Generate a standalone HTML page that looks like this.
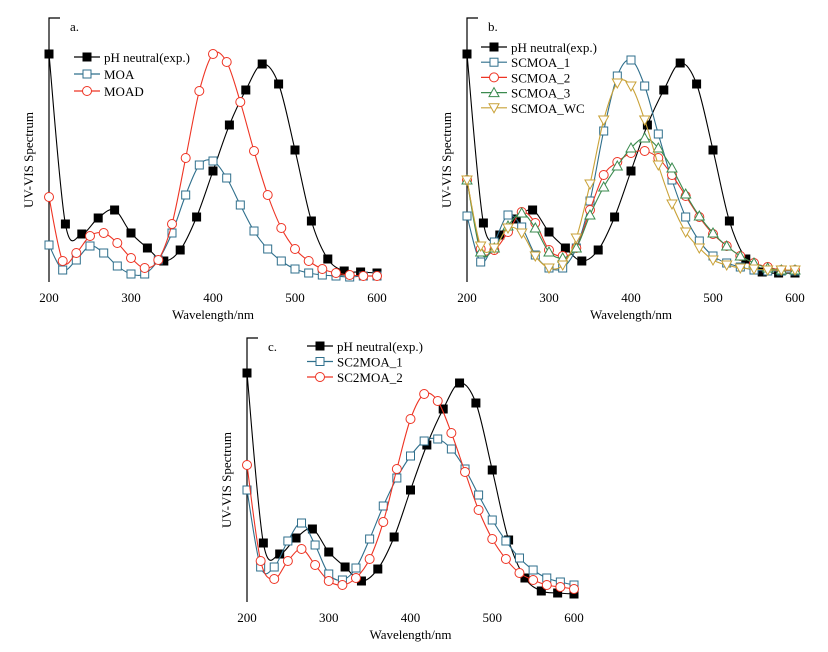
<!DOCTYPE html>
<html><head><meta charset="utf-8">
<style>
html,body{margin:0;padding:0;background:#fff;}
svg{display:block;font-family:"Liberation Serif",serif;}
</style></head>
<body>
<svg id="fig" width="828" height="652" viewBox="0 0 828 652" xmlns="http://www.w3.org/2000/svg"></svg>
<script>
// Wavelength grids
const wl20 = [200,220,240,260,280,300,320,340,360,380,400,420,440,460,480,500,520,540,560,580,600];
const wl17 = [200,216.7,233.3,250,266.7,283.3,300,316.7,333.3,350,366.7,383.3,400,416.7,433.3,450,466.7,483.3,500,516.7,533.3,550,566.7,583.3,600];
const xTicks = [200,300,400,500,600];
// Panel a
const aExp  = [228,58,48,64,72,49,34,21,32,65,111,157,192,218,198,132,61,23,11,10,9];
const aMOA  = [37,12,22,36,29,16,8,8,22,49,87,117,121,104,77,51,33,21,13,9,7,6,5,6,6];
const aMOAD = [85,21,29,46,49,39,24,14,22,58,124,191,228,220,180,131,87,54,33,21,13,9,7,6,6];
// Panel b
const bExp  = [228,59,47,63,72,50,34,21,32,65,111,157,192,219,198,132,61,23,10,9,9];
const bS1   = [66,20,40,67,55,27,14,14,34,81,151,206,222,196,148,102,65,41,26,19,15,12,11,11,11];
const bS2   = [102,33,32,50,70,59,32,26,34,72,107,120,129,131,124,107,86,65,48,36,26,19,15,12,12];
const bS3   = [102,30,34,56,69,54,30,24,34,67,95,116,134,144,134,114,88,66,49,36,26,19,14,12,12];
const bWC   = [102,36,34,54,49,26,14,17,44,98,162,199,196,162,117,78,50,34,22,17,14,13,12,12,12];
// Panel c
const cExp  = [229,59,48,64,73,50,35,21,33,65,112,157,193,219,199,132,62,24,11,9,8];
const cS1   = [112,35,35,61,79,57,28,22,34,63,96,124,146,161,163,153,133,107,82,61,44,32,24,20,17];
const cS2   = [137,41,23,41,53,37,21,17,24,43,80,133,183,208,201,169,130,92,63,43,29,22,17,15,13];

const NS = "http://www.w3.org/2000/svg";
const svg = document.getElementById('fig');
function mk(tag, attrs, parent){
  const e = document.createElementNS(NS, tag);
  for (const k in attrs) e.setAttribute(k, attrs[k]);
  (parent||svg).appendChild(e);
  return e;
}
function smoothPath(pts){
  let d = `M${pts[0][0]},${pts[0][1]}`;
  for (let i=0;i<pts.length-1;i++){
    const p0=pts[Math.max(0,i-1)], p1=pts[i], p2=pts[i+1], p3=pts[Math.min(pts.length-1,i+2)];
    const c1=[p1[0]+(p2[0]-p0[0])/6, p1[1]+(p2[1]-p0[1])/6];
    const c2=[p2[0]-(p3[0]-p1[0])/6, p2[1]-(p3[1]-p1[1])/6];
    d += ` C${c1[0]},${c1[1]} ${c2[0]},${c2[1]} ${p2[0]},${p2[1]}`;
  }
  return d;
}
function marker(g, type, x, y, color){
  let e;
  if (type==='fsq') e = mk('rect',{x:x-4.5,y:y-4.5,width:9,height:9,fill:'#000'},g);
  else if (type==='osq') e = mk('rect',{x:x-4,y:y-4,width:8,height:8,fill:'#fff',stroke:color,'stroke-width':1},g);
  else if (type==='circ') e = mk('circle',{cx:x,cy:y,r:4.5,fill:'#fff',stroke:color,'stroke-width':1},g);
  else if (type==='tri') e = mk('polygon',{points:`${x},${y-5} ${x-5},${y+4} ${x+5},${y+4}`,fill:'#fff',stroke:color,'stroke-width':1},g);
  else if (type==='itri') e = mk('polygon',{points:`${x},${y+5} ${x-5},${y-4} ${x+5},${y-4}`,fill:'#fff',stroke:color,'stroke-width':1},g);
  
  
  return e;
}
function panel(cfg){
  const g = mk('g',{});
  
  
  const xs = v => cfg.x0 + (v-200)*(cfg.x1-cfg.x0)/400;
  const ys = v => cfg.base - v;
  const ax = mk('path',{d:`M${cfg.x0+11},${cfg.top} H${cfg.x0} V${cfg.base}`,fill:'none',stroke:'#000','stroke-width':1.2},g);
  
  
  const lab = mk('text',{x:cfg.x0+21,y:cfg.top+13,'font-size':13},g);
  lab.textContent = cfg.id+'.';
  
  
  xTicks.forEach(t=>{
    const tx = mk('text',{x:xs(t),y:cfg.base+20,'font-size':13,'text-anchor':'middle'},g);
    tx.textContent = t;
    
    
  });
  const xt = mk('text',{x:(cfg.x0+cfg.x1)/2,y:cfg.base+37,'font-size':13,'text-anchor':'middle'},g);
  xt.textContent = 'Wavelength/nm';
  
  
  const yc = (cfg.top+cfg.base)/2+10;
  const yt = mk('text',{x:cfg.x0-16,y:yc,'font-size':13,'text-anchor':'middle',transform:`rotate(-90 ${cfg.x0-16} ${yc})`},g);
  yt.textContent = 'UV-VIS Spectrum';
  
  
  cfg.series.forEach((s,i)=>{
    const sg = mk('g',{},g);
    
    
    const pts = s.x.map((w,j)=>[xs(w), ys(s.y[j])]);
    mk('path',{d:smoothPath(pts),fill:'none',stroke:s.color,'stroke-width':1.1},sg);
    pts.forEach(p=>marker(sg,s.m,p[0],p[1],s.color));
    // legend
    const ly = cfg.ly + i*cfg.lstep;
    const lg = mk('g',{},g);
    
    
    mk('line',{x1:cfg.lx,x2:cfg.lx+26,y1:ly,y2:ly,stroke:s.color,'stroke-width':1.2},lg);
    marker(lg,s.m,cfg.lx+13,ly,s.color);
    const lt = mk('text',{x:cfg.lx+30,y:ly+5,'font-size':13},lg);
    lt.textContent = s.name;
  });
}
const BLK='#000', BLU='#2f6f8c', RED='#ee3424', GRN='#3b8b4f', GLD='#c9a238';
panel({id:'a',x0:49,x1:377,base:282,top:18,lx:74,ly:57,lstep:17,series:[
  {name:'pH neutral(exp.)',x:wl20,y:aExp,m:'fsq',color:BLK},
  {name:'MOA',x:wl17,y:aMOA,m:'osq',color:BLU},
  {name:'MOAD',x:wl17,y:aMOAD,m:'circ',color:RED}]});
panel({id:'b',x0:467,x1:795,base:282,top:18,lx:481,ly:47,lstep:15.2,series:[
  {name:'pH neutral(exp.)',x:wl20,y:bExp,m:'fsq',color:BLK},
  {name:'SCMOA_1',x:wl17,y:bS1,m:'osq',color:BLU},
  {name:'SCMOA_2',x:wl17,y:bS2,m:'circ',color:RED},
  {name:'SCMOA_3',x:wl17,y:bS3,m:'tri',color:GRN},
  {name:'SCMOA_WC',x:wl17,y:bWC,m:'itri',color:GLD}]});
panel({id:'c',x0:247,x1:574,base:602,top:338,lx:307,ly:346,lstep:15.5,series:[
  {name:'pH neutral(exp.)',x:wl20,y:cExp,m:'fsq',color:BLK},
  {name:'SC2MOA_1',x:wl17,y:cS1,m:'osq',color:BLU},
  {name:'SC2MOA_2',x:wl17,y:cS2,m:'circ',color:RED}]});
</script>
</body></html>
